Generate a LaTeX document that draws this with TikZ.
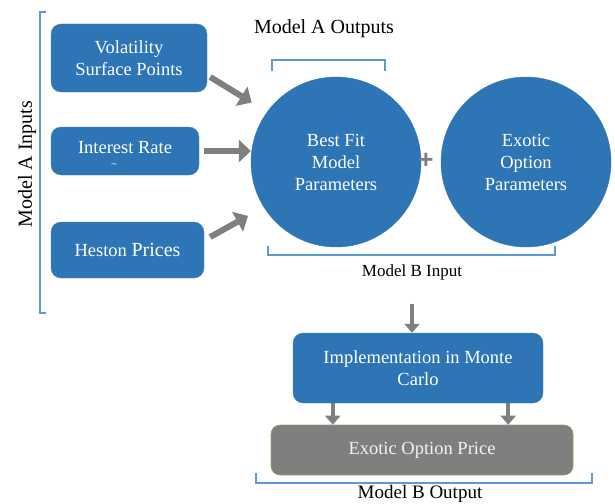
\documentclass[tikz,border=0pt]{standalone}
\usepackage{fontspec}
\setmainfont{Liberation Serif}
\newfontfamily\plusfont{Liberation Sans}
\usetikzlibrary{arrows.meta,calc}
\definecolor{boxblue}{HTML}{2E75B6}
\definecolor{brblue}{HTML}{5B9BD5}
\definecolor{arrgray}{HTML}{7F7F7F}
\definecolor{pricegray}{HTML}{7F7F7F}
\definecolor{priceedge}{HTML}{8AA36A}
\begin{document}
\begin{tikzpicture}[x=1pt,y=-1pt,
  every node/.style={font=\fontsize{18.5}{22}\selectfont, align=center, inner sep=0pt},
  bluebox/.style={draw=boxblue!85!white, fill=boxblue, rounded corners=10pt, text=white},
  bluecirc/.style={circle, fill=boxblue, draw=boxblue, minimum size=170pt, text=white},
  bigarrow/.style={draw=arrgray, line width=6pt, -{Triangle[length=12pt,width=22pt]}},
  medarrow/.style={draw=arrgray, line width=4pt, -{Triangle[length=9pt,width=15pt]}},
  bracket/.style={draw=brblue, line width=1.2pt},
  lbl/.style={text=black}]
\useasboundingbox (0,0) rectangle (615,503);

% left inputs
\node[bluebox, minimum width=156pt, minimum height=68pt] (vol) at (129,58) {Volatility\\Surface Points};
\node[bluebox, minimum width=148pt, minimum height=48pt] (int) at (125,151) {};
\node[text=white] (intt) at (125,148) {Interest Rate};
\node[text=white, font=\fontsize{10}{10}\selectfont] (intc) at (114,165) {\textasciitilde};
\node[bluebox, minimum width=153pt, minimum height=56pt] (hes) at (127.5,250) {Heston {\fontsize{20}{22}\selectfont Prices}};

\node[lbl, rotate=90, font=\fontsize{20}{22}\selectfont] (ainl) at (27,164) {Model A Inputs};
\draw[bracket] (46,12) -- (40,12) -- (40,313) -- (46,313);

% circles
\node[bluecirc] (fit) at (336,162) {Best Fit\\Model\\Parameters};
\node[bluecirc] (exo) at (526,162) {Exotic\\Option\\Parameters};
\node[text=arrgray, font=\plusfont\bfseries\fontsize{26}{26}\selectfont] (plus) at (426,161) {+};

\node[lbl, font=\fontsize{20}{22}\selectfont] (aoutl) at (324,29) {Model A Outputs};
\draw[bracket] (272,71) -- (272,60) -- (385,60) -- (385,71);

\draw[bracket] (268,246) -- (268,255) -- (555,255) -- (555,246);
\node[lbl, font=\fontsize{17}{22}\selectfont] (binl) at (412,272) {Model B Input};

% arrows into fit
\draw[bigarrow, shorten >=18pt] ([shift={(3,19)}]vol.east) -- (fit.144);
\draw[bigarrow] ([xshift=5pt]int.east) -- (fit.west |- int.east);
\draw[bigarrow, shorten >=18pt] ([shift={(6,-13)}]hes.east) -- (fit.212);

% lower part
\node[bluebox, minimum width=250pt, minimum height=70pt] (impl) at (418,368) {Implementation in Monte\\Carlo};
\node[fill=pricegray, draw=priceedge, line width=0.6pt, rounded corners=9pt, minimum width=302pt, minimum height=50pt, text=white!90!gray] (price) at (422,450) {Exotic Option Price};

\coordinate (d1s) at ([xshift=40pt]impl.south west);
\coordinate (d2s) at ([xshift=-35pt]impl.south east);
\coordinate (d1e) at (d1s |- price.north);
\coordinate (d2e) at (d2s |- price.north);
\coordinate (d0e) at (binl.south |- impl.north);

\draw[medarrow, shorten <=24pt] (binl.south) -- (d0e);
\draw[medarrow] (d1s) -- (d1e);
\draw[medarrow] (d2s) -- (d2e);

\draw[bracket] (256,473) -- (256,483) -- (592,483) -- (592,473);
\node[lbl, font=\fontsize{19}{22}\selectfont] (boutl) at (420,494) {Model B Output};
\end{tikzpicture}
\end{document}
